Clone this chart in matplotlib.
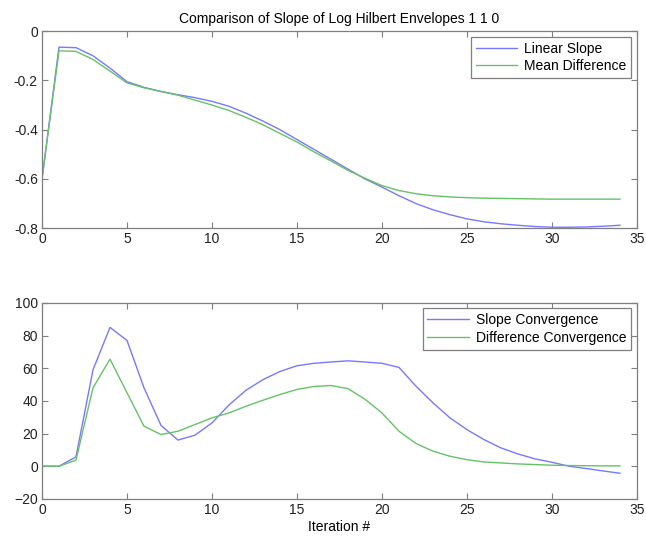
import numpy as np
import matplotlib
matplotlib.use('Agg')
import matplotlib.pyplot as plt

plt.rcParams['font.family'] = ['Liberation Sans', 'DejaVu Sans']

iteration = np.arange(35)

# slope of log hilbert envelope per iteration
linear_slope = [-0.60, -0.065, -0.067, -0.10, -0.15, -0.205, -0.228, -0.245, -0.258, -0.270,
                -0.285, -0.305, -0.333, -0.365, -0.400, -0.440, -0.480, -0.520, -0.560, -0.600,
                -0.633, -0.668, -0.700, -0.725, -0.745, -0.762, -0.774, -0.782, -0.788, -0.793,
                -0.796, -0.796, -0.795, -0.792, -0.788]
mean_difference = [-0.60, -0.080, -0.082, -0.115, -0.162, -0.210, -0.230, -0.245, -0.260, -0.280,
                   -0.300, -0.322, -0.350, -0.380, -0.415, -0.450, -0.490, -0.527, -0.565, -0.597,
                   -0.627, -0.647, -0.660, -0.668, -0.673, -0.676, -0.678, -0.679, -0.680, -0.681,
                   -0.682, -0.682, -0.682, -0.682, -0.682]

# convergence measures
slope_conv = [0, 0, 5.7, 59, 85, 77, 48, 25, 16, 19,
              26.5, 37.5, 46.5, 53, 58, 61.5, 63, 63.8, 64.5, 63.8,
              63, 60.5, 49, 38.8, 29.6, 22.4, 16.3, 11.2, 7.5, 4.5,
              2.4, 0, -1.4, -2.9, -4.3]
diff_conv = [0, 0, 3.7, 48, 65.5, 45, 24.5, 19.4, 21.4, 25.5,
             29.6, 32.6, 36.7, 40.4, 43.9, 47, 48.8, 49.4, 47.5, 41,
             32.6, 21.4, 13.9, 9.2, 6.1, 4, 2.6, 2, 1.4, 1,
             0.6, 0.4, 0.3, 0.2, 0.2]

blue = '#7878ff'
green = '#66c266'
frame = '#7f7f7f'

fig = plt.figure(figsize=(6.46, 5.37), dpi=100)
ax1 = fig.add_axes([0.065, 0.575, 0.921, 0.367])
ax2 = fig.add_axes([0.065, 0.071, 0.921, 0.365])

ax1.plot(iteration, linear_slope, color=blue, lw=1.0, label='Linear Slope')
ax1.plot(iteration, mean_difference, color=green, lw=1.0, label='Mean Difference')
ax1.set_xlim(0, 35)
ax1.set_ylim(-0.8, 0)
ax1.set_yticks([-0.8, -0.6, -0.4, -0.2, 0])
ax1.set_yticklabels(['-0.8', '-0.6', '-0.4', '-0.2', '0'])
ax1.set_title('Comparison of Slope of Log Hilbert Envelopes 1 1 0', fontsize=10, pad=6)

ax2.plot(iteration, slope_conv, color=blue, lw=1.0, label='Slope Convergence')
ax2.plot(iteration, diff_conv, color=green, lw=1.0, label='Difference Convergence')
ax2.set_xlim(0, 35)
ax2.set_ylim(-20, 100)
ax2.set_yticks([-20, 0, 20, 40, 60, 80, 100])
ax2.set_xlabel('Iteration #', fontsize=10, labelpad=2)

for ax in (ax1, ax2):
    ax.set_xticks([0, 5, 10, 15, 20, 25, 30, 35])
    ax.tick_params(direction='in', length=4, width=0.8, colors=frame, labelcolor='#222222',
                   labelsize=10, top=True, right=True, pad=3)
    for s in ax.spines.values():
        s.set_color(frame)
        s.set_linewidth(0.9)
    leg = ax.legend(loc='upper right', fontsize=10, fancybox=False, framealpha=1,
                    edgecolor=frame, borderaxespad=0.4, handlelength=3.0,
                    handletextpad=0.5, borderpad=0.35, labelspacing=0.25)
    leg.get_frame().set_linewidth(0.9)

fig.savefig('out.png', dpi=100)
